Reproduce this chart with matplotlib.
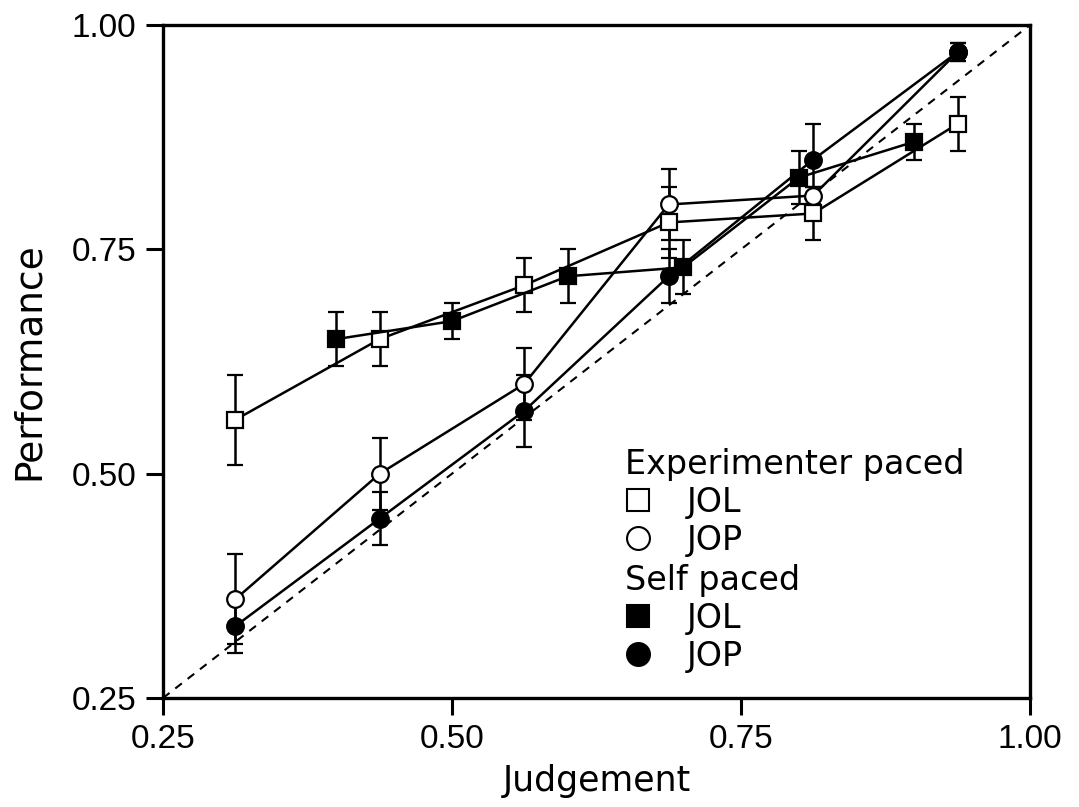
import matplotlib as mpl
import matplotlib.pyplot as plt
from matplotlib.lines import Line2D

mpl.use('Agg')

# judgement bins
exp_x = [0.3125, 0.4375, 0.5625, 0.6875, 0.8125, 0.9375]
self_x = [0.40, 0.50, 0.60, 0.70, 0.80, 0.90]

# experimenter paced
exp_jol = [0.56, 0.65, 0.71, 0.78, 0.79, 0.89]
exp_jol_err = [0.05, 0.03, 0.03, 0.04, 0.03, 0.03]
exp_jop = [0.36, 0.50, 0.60, 0.80, 0.81, 0.97]
exp_jop_err = [0.05, 0.04, 0.04, 0.04, 0.01, 0.01]

# self paced
self_jol = [0.65, 0.67, 0.72, 0.73, 0.83, 0.87]
self_jol_err = [0.03, 0.02, 0.03, 0.03, 0.03, 0.02]
self_jop = [0.33, 0.45, 0.57, 0.72, 0.85, 0.97]
self_jop_err = [0.03, 0.03, 0.04, 0.03, 0.04, 0.01]

ticks = [0.25, 0.50, 0.75, 1.00]

plt.rcParams['font.family'] = ['DejaVu Sans']
fig = plt.figure(figsize=(10.79, 8.07), dpi=100)
ax = fig.add_axes([0.151, 0.135, 0.8036, 0.834])

ax.plot([0.25, 1.0], [0.25, 1.0], color='black', lw=1.5, ls=(0, (4, 3.5)), zorder=1)

style = dict(color='black', lw=1.8, markersize=12, capsize=6, elinewidth=1.8,
             capthick=1.8, markeredgewidth=1.6, zorder=3)
ax.errorbar(exp_x, exp_jol, yerr=exp_jol_err, marker='s', markerfacecolor='white', **style)
ax.errorbar(exp_x, exp_jop, yerr=exp_jop_err, marker='o', markerfacecolor='white', **style)
ax.errorbar(self_x, self_jol, yerr=self_jol_err, marker='s', markerfacecolor='black', **style)
ax.errorbar(exp_x, self_jop, yerr=self_jop_err, marker='o', markerfacecolor='black', **style)

ax.set_xlim(0.25, 1.0)
ax.set_ylim(0.25, 1.0)
ax.set_xticks(ticks)
ax.set_yticks(ticks)
ax.set_xticklabels([f'{t:.2f}' for t in ticks], family='Liberation Sans')
ax.set_yticklabels([f'{t:.2f}' for t in ticks], family='Liberation Sans')
ax.tick_params(direction='out', length=12, width=2.2, labelsize=24, pad=7,
               top=False, right=False)
for s in ax.spines.values():
    s.set_linewidth(2.4)
ax.set_xlabel('Judgement', fontsize=25, labelpad=6)
ax.set_ylabel('Performance', fontsize=27, labelpad=18)


def mk(m, fc):
    return Line2D([], [], ls='none', marker=m, markersize=16.5, markerfacecolor=fc,
                  markeredgecolor='black', markeredgewidth=1.5)


leg_kw = dict(frameon=False, fontsize=24, title_fontsize=24, alignment='left',
              handlelength=0.8, handletextpad=1.05, labelspacing=0.15,
              borderpad=0, borderaxespad=0)
leg1 = ax.legend([mk('s', 'white'), mk('o', 'white')], ['JOL', 'JOP'],
                 title='Experimenter paced', loc='upper left',
                 bbox_to_anchor=(0.533, 0.3716), **leg_kw)
ax.add_artist(leg1)
ax.legend([mk('s', 'black'), mk('o', 'black')], ['JOL', 'JOP'],
          title='Self paced', loc='upper left',
          bbox_to_anchor=(0.533, 0.199), **leg_kw)

fig.savefig('out.png', dpi=100)
